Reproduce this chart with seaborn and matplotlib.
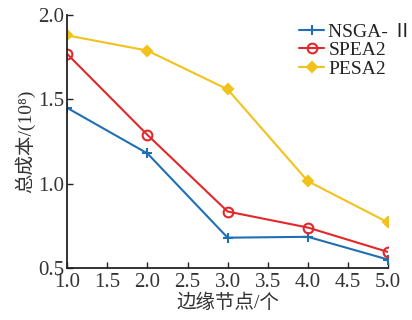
import matplotlib
matplotlib.use("Agg")
import matplotlib.pyplot as plt
import seaborn as sns
import pandas as pd

nodes = [1.0, 2.0, 3.0, 4.0, 5.0]
nsga2 = [1.45, 1.18, 0.68, 0.685, 0.55]
spea2 = [1.77, 1.29, 0.835, 0.74, 0.595]
pesa2 = [1.88, 1.79, 1.56, 1.015, 0.77]
series_names = ["NSGA- Ⅱ", "SPEA2", "PESA2"]
xticks = [1.0, 1.5, 2.0, 2.5, 3.0, 3.5, 4.0, 4.5, 5.0]
yticks = [0.5, 1.0, 1.5, 2.0]

sns.set_style("ticks")
plt.rcParams['font.family'] = ['Liberation Serif', 'Noto Sans CJK SC', 'DejaVu Sans']

df = pd.DataFrame({
    "x": nodes * 3,
    "y": nsga2 + spea2 + pesa2,
    "s": [series_names[0]] * 5 + [series_names[1]] * 5 + [series_names[2]] * 5,
})

colors = {series_names[0]: "#1f6fb4", series_names[1]: "#e3272a", series_names[2]: "#f2c21b"}
markers = {series_names[0]: "+", series_names[1]: "o", series_names[2]: "D"}

fig = plt.figure(figsize=(4.12, 3.2), dpi=100)
ax = fig.add_axes([0.163, 0.1625, 0.779, 0.79])

for name in series_names:
    sub = df[df.s == name]
    kw = dict(marker=markers[name], markersize=7, markeredgewidth=1.5,
              markeredgecolor=colors[name])
    if name == series_names[1]:
        kw.update(markerfacecolor="none")
    elif name == series_names[2]:
        kw.update(markersize=5, markerfacecolor=colors[name])
    sns.lineplot(data=sub, x="x", y="y", color=colors[name], linewidth=1.5,
                 label=name, ax=ax, **kw)

ax.set_xlim(1.0, 5.0)
ax.set_ylim(0.5, 2.0)
ax.set_xticks(xticks)
ax.set_yticks(yticks)
ax.set_xticklabels([f"{t:.1f}" for t in xticks])
ax.set_yticklabels([f"{t:.1f}" for t in yticks])
ax.tick_params(direction="in", labelsize=15, length=4, width=1, colors="#222222", labelcolor="#333333")
ax.tick_params(axis="y", pad=2)
for sp in ["top", "right"]:
    ax.spines[sp].set_visible(False)
for sp in ["left", "bottom"]:
    ax.spines[sp].set_linewidth(1.3)
    ax.spines[sp].set_color("#222222")

ax.set_xlabel("边缘节点/个", fontsize=14, color="#333333", labelpad=1)
ax.set_ylabel("总成本/(10⁸)", fontsize=14, color="#333333", labelpad=2)

leg = ax.legend(loc="upper right", frameon=False, fontsize=14, handlelength=1.3,
                handletextpad=0.2, labelspacing=0.05, borderaxespad=0.0,
                bbox_to_anchor=(1.1, 1.0))
for t in leg.get_texts():
    t.set_color("#222222")

fig.savefig("out.png", dpi=100)
